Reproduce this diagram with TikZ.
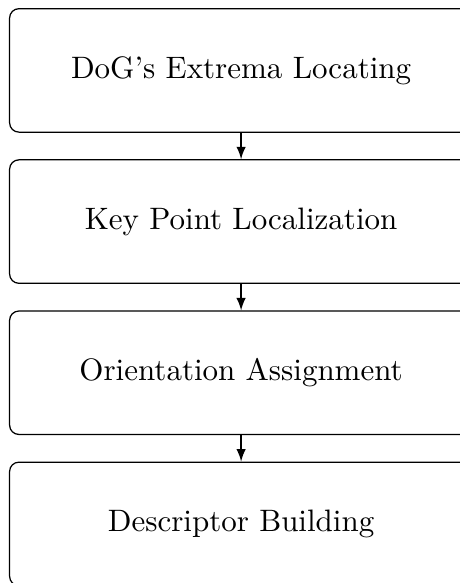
\documentclass[tikz,border=0pt]{standalone}
\usepackage{tikz}
\usetikzlibrary{arrows.meta,positioning}
\tikzset{
  siftstage/.style={
    draw, rounded corners=3pt, align=center,
    minimum width=5.25cm, minimum height=1.4cm,
  },
  siftflow/.style={-latex},
}

\begin{document}
\begin{tikzpicture}[node distance=0.3cm]
% page frame first, so the right and bottom edges get cut off
\path[use as bounding box] (-2.9pt,2.6pt) rectangle ++(148.4pt,-188.1pt);

\node[siftstage,anchor=north west] (extrema) at (0,0) {DoG's Extrema Locating};
\node[siftstage,below=of extrema] (keypoint) {Key Point Localization};
\node[siftstage,below=of keypoint] (orient) {Orientation Assignment};
\node[siftstage,below=of orient] (descr) {Descriptor Building};

\draw[siftflow] (extrema) -- (keypoint);
\draw[siftflow] (keypoint) -- (orient);
\draw[siftflow] (orient) -- (descr);
\end{tikzpicture}
\end{document}
